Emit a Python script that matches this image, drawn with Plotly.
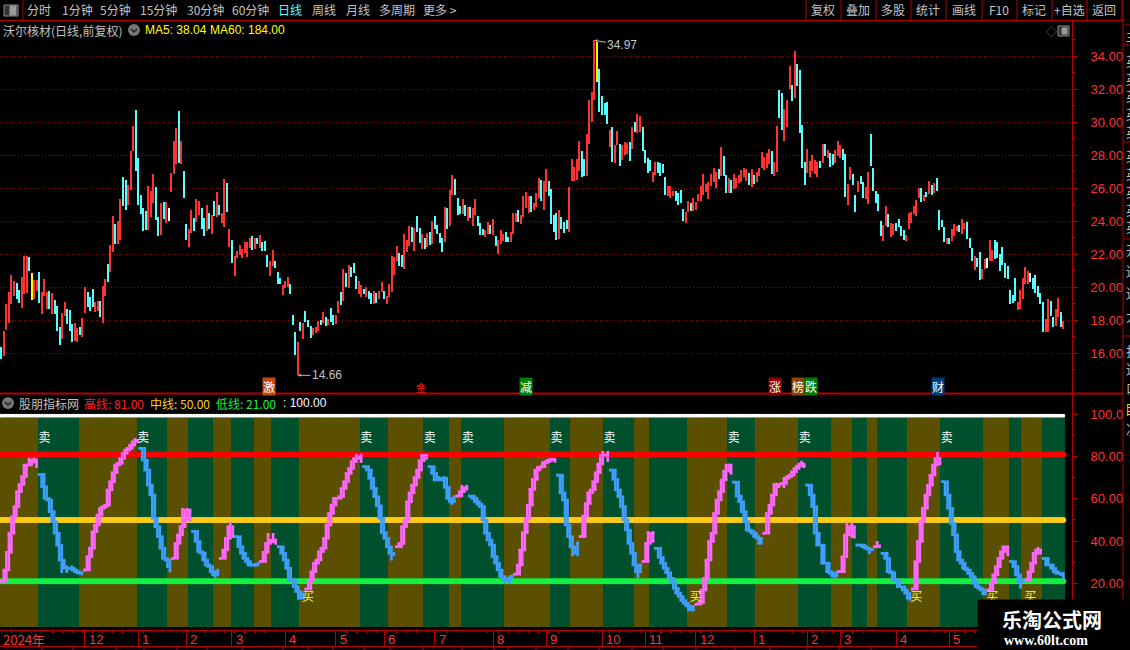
import plotly.graph_objects as go

W, H = 1130, 650

# price bars, left to right
high = [16.38,17.35,18.99,19.72,20.75,20.38,20.26,19.84,20.63,21.90,
21.90,21.84,20.87,20.44,20.44,20.93,19.72,20.51,19.72,19.78,
19.66,19.23,18.87,17.60,18.44,19.11,18.69,18.63,17.78,17.84,
17.54,17.60,18.14,20.02,19.72,19.41,19.90,19.11,19.17,19.17,
20.08,20.51,21.41,22.57,24.32,23.84,24.02,25.35,26.69,26.51,
26.20,28.26,29.78,30.75,27.84,25.60,24.81,24.63,26.14,25.84,
26.87,26.08,24.26,25.11,25.17,25.17,24.81,26.93,28.87,29.66,
30.69,28.87,27.05,23.84,23.54,24.69,24.20,25.35,25.23,24.81,
24.20,24.99,24.50,24.38,25.23,25.78,24.99,24.50,26.57,26.32,
23.54,22.87,21.90,22.20,22.57,22.32,22.75,22.75,22.99,23.11,
22.99,22.99,23.17,22.75,22.81,21.96,21.60,22.26,21.60,20.93,
20.57,20.14,20.38,20.63,20.20,18.32,17.29,16.69,
17.90,17.84,18.57,18.02,17.66,17.54,17.60,17.96,18.02,18.51,
18.20,18.08,18.75,18.32,18.32,19.17,19.72,21.11,20.87,21.35,
21.23,21.47,20.69,20.38,20.14,19.90,20.02,19.78,19.66,19.78,
19.66,19.78,20.32,19.78,19.47,20.20,21.90,21.84,22.51,22.08,
21.96,23.23,22.87,23.72,23.66,23.60,24.32,23.60,23.23,22.99,
23.29,23.35,24.02,24.32,23.78,23.29,22.99,24.87,24.81,25.90,
26.81,26.57,25.41,24.93,25.35,24.99,24.87,24.87,24.81,25.35,
24.32,23.90,23.54,23.47,23.96,23.78,24.14,23.11,22.87,23.47,
23.23,23.35,23.05,23.35,24.51,24.51,24.69,24.38,25.54,25.78,
25.54,25.54,25.11,25.72,26.63,26.51,26.44,27.17,26.44,25.96,
24.38,24.51,24.69,24.26,23.96,24.08,26.08,27.78,27.29,27.78,
28.87,28.26,27.78,29.29,31.35,
31.84,34.97,34.87,33.23,31.60,31.17,31.23,29.54,29.72,28.63,
29.47,28.69,28.63,28.81,28.75,28.81,29.72,30.02,30.51,30.38,
29.72,28.32,27.84,27.72,26.99,27.60,27.60,27.54,27.47,26.69,
26.14,26.14,25.84,25.84,25.72,25.90,24.75,24.57,25.23,25.11,
25.41,25.17,25.66,26.14,26.87,26.26,26.38,26.87,27.23,26.99,
27.17,28.51,27.96,26.81,26.63,26.51,26.87,26.63,26.81,27.11,
27.23,27.17,26.93,27.17,26.81,26.99,27.23,28.20,27.90,28.14,
28.38,28.26,27.60,29.78,31.96,31.78,30.81,31.35,33.41,32.26,
34.32,33.54,33.17,29.84,27.60,28.38,27.66,28.02,27.72,27.60,
27.66,28.69,28.69,28.32,28.14,28.08,28.32,28.87,28.63,28.38,
28.08,26.26,27.29,26.87,25.60,26.44,
26.75,26.38,26.08,26.99,29.29,27.23,25.84,25.66,24.02,23.78,
24.93,24.44,23.90,23.84,23.90,24.14,23.72,23.47,23.17,24.51,
24.57,24.93,25.29,26.02,26.02,25.60,25.78,26.44,26.20,26.32,
26.63,24.69,24.08,23.66,22.99,22.99,23.54,23.84,23.72,23.78,
24.14,23.90,23.96,22.99,22.38,21.90,21.78,22.14,21.11,21.72,
21.78,22.87,22.26,22.87,22.75,22.02,22.44,21.47,21.29,19.84,
19.54,20.57,19.11,19.84,20.57,21.23,20.99,20.87,20.57,20.75,
20.08,19.66,19.11,18.08,19.29,19.17,18.20,18.69,19.35,18.51,
17.96]

low = [15.66,15.86,17.41,17.84,18.99,19.47,19.29,19.05,18.75,19.60,
19.66,20.99,19.23,19.29,19.78,19.05,18.38,19.47,18.69,18.69,
18.38,18.38,17.35,16.51,16.87,18.26,17.78,17.35,16.69,16.75,
16.69,17.11,16.99,18.44,18.81,18.57,18.81,18.51,18.57,18.20,
17.84,19.47,20.32,20.93,22.14,22.63,22.63,22.87,24.93,24.69,
24.99,25.90,28.26,27.05,24.99,24.44,23.41,23.47,23.47,24.26,
25.11,24.08,23.11,23.17,24.14,23.90,24.02,25.78,26.87,27.47,
27.54,27.47,25.41,22.87,22.44,23.29,23.41,23.96,24.38,23.54,
23.11,23.41,23.54,23.23,24.32,24.26,24.38,23.90,23.66,24.57,
22.44,21.47,20.69,21.78,21.96,21.78,22.08,21.84,22.38,22.26,
22.32,22.63,22.38,22.20,22.20,21.23,20.69,21.29,21.17,20.20,
20.20,19.54,19.96,20.02,19.60,17.72,15.90,14.66,
17.35,16.87,17.90,17.60,16.93,17.11,17.23,17.35,17.72,17.84,
17.66,17.72,17.90,17.72,17.78,18.44,18.93,19.17,20.02,19.96,
20.63,20.87,19.90,19.60,19.41,19.60,19.41,19.29,18.99,18.99,
19.05,19.29,19.72,19.29,18.99,19.41,19.72,20.75,21.60,21.29,
21.23,21.11,22.14,22.51,22.75,22.20,23.35,22.69,22.32,22.32,
22.44,22.57,22.63,23.54,23.23,22.69,22.14,22.75,23.54,23.72,
25.60,25.60,24.38,24.44,24.44,24.32,24.02,24.20,23.72,24.38,
23.72,23.17,23.17,23.05,23.23,23.23,23.17,22.51,22.02,22.63,
22.81,22.75,22.75,22.75,23.23,23.96,23.96,23.84,24.26,24.81,
24.51,24.57,24.69,24.87,25.41,25.23,24.69,25.78,25.54,23.84,
23.35,22.87,22.93,23.54,23.29,23.54,23.35,26.44,26.44,26.51,
27.05,26.69,26.75,26.75,28.69,
30.02,31.35,32.44,30.63,30.44,30.44,29.90,28.51,27.60,27.54,
28.63,27.35,27.72,28.02,28.08,27.66,28.38,29.41,29.35,29.41,
28.26,27.54,26.93,27.05,26.38,26.81,26.93,26.75,26.93,25.60,
25.54,25.41,25.54,25.23,24.99,25.11,24.02,23.90,24.57,24.63,
24.63,24.69,25.23,25.23,25.60,25.78,25.35,26.14,26.38,26.02,
26.57,26.75,26.75,25.72,25.72,25.72,25.96,26.02,26.32,26.38,
26.69,26.44,26.20,26.08,26.26,26.38,26.75,27.23,27.11,27.23,
27.47,26.87,26.75,26.99,30.26,29.54,28.87,29.72,32.02,31.29,
31.47,32.20,29.35,27.23,26.20,26.93,26.69,27.05,26.87,26.69,
27.23,27.54,27.96,27.84,27.29,27.41,27.54,27.96,27.84,27.72,
25.47,24.99,26.51,26.20,24.57,25.78,
26.26,25.41,25.35,25.05,27.35,25.84,25.11,24.63,23.11,22.81,
23.72,23.66,23.05,23.17,23.41,23.66,23.11,22.87,22.81,23.54,
23.90,24.44,24.32,25.41,25.17,25.23,25.47,25.66,25.60,25.72,
25.84,23.47,23.66,22.75,22.63,22.63,22.81,23.11,23.41,23.35,
23.23,23.54,22.93,22.38,21.60,21.05,21.23,20.44,20.51,21.11,
21.17,21.60,21.60,21.72,21.78,20.99,21.35,20.57,20.51,18.99,
19.05,19.17,18.63,18.69,19.29,20.20,20.20,20.32,19.90,19.66,
19.41,18.99,17.29,17.29,17.29,18.26,17.60,17.66,18.20,17.60,
17.48]

# R up, C down, Y and W the odd coloured bars
bar_kind = list(
    "CRRRRRCCRR" "RCYRRCRRRC" "RCCCRRCCCR" "RCRRCCCRRC" "RRCRRCRRCC" "RRRCCCCCRR"
    "RCCRCRWRRR" "CRCCRRCRRC" "CRCRCRCRRC" "RCRRRRRRRC" "RCRCCCRRCC" "CRRRCCCR"
    "CRCCCRRRCR" "CRCCRRCRCR" "CCCRRCRCCR" "CRRCRRRRRC" "CRRRCRCCRC" "RCRCCCCRCR"
    "RCCCRCRCRR" "CCCRRCRCRR" "RCCRRRCRRR" "RCRRRCRRCC" "CCRCCCRRRR" "RCCRR"
    "RRYCCCCRCR" "RCRRRCRCRR" "CCCCRRCCCC" "RRRCCCCRRC" "RRRRRRRRRR" "CRCCRCRRRR"
    "RRCRCRRRRR" "RCRRCCRRRC" "RCCCCRRRRR" "CRCRCCRRRC" "CRRCCR"
    "CCRRCCCCCR" "RCRRCCCCRR" "RRRRCRCRCR" "CCCCRCRRRC" "RRCCCRCCRR" "WRRCCCCCCC"
    "CCRRRRRWCC" "CCCRRCCRRC" "R"
)

peak_i, peak_price = 234, 34.97
trough_i, trough_price = 117, 14.66

price_ticks = [16, 18, 20, 22, 24, 26, 28, 30, 32, 34]
price_minor = [15, 17, 19, 21, 23, 25, 27, 29, 31, 33, 35]

# indicator, one list per rising (pink) or falling (blue) run, pink first
ind_runs = [
    [21.0,26.3,34.7,43.7,51.5,56.3,63.4,66.8,70.5,76,76,78.8,78.4,77.3,75.2],
    [71.6,65.7,60.2,59.4,53.9,49.2,43.7,38.1,31,25.5,27.1,27.9,27.1,26.3,25.5,25,24.7,24.4],
    [26.3,32.6,36.6,44.4,47.6,52.3,55.5,56.3,57,64.2,68.1,72.4,76,76.8,79.1,81.5,83.1,83.9,85.4,87,88.1,87.8],
    [83.9,78.3,73.6,66.5,61.8,50.8,46.8,42.1,36.6,31.8,31,27.9,25.8],
    [31.8,38.9,42.9,46.8,55,54.7,50.3,49.8],
    [44.6,39.8,35,34.3,31,28.7,27.9,25.5,24,23.2,26.3],
    [31.8,35.8,41.3,46.8,48.4,42.1],
    [42.1,37.3,34.2,31.8,30.3,28.7,28.4,28.7,29.1,29.5],
    [30.3,34.7,38.9,43.2,40.5,39.6,38.9],
    [37.3,34.2,31,27.1,21.6,21.6,18.4,16.1,12.9,12.9,15],
    [17.3,21.6,25.5,29.5,31,35,36.6,41.3,47.6,53.1,57,60.2,60.2,61,64.9,68.1,72,74.4,77.6,79.1,80.7,79.9,77.6],
    [75.2,73.6,69.7,64.9,61,56.7,50.8,44,41.3,37.3,34.2,31.4,33.4],
    [37.3,38.9,46.8,50,58.6,62.8,66.5,70.1,73.6,78,80.6,80.6,79.1],
    [75.2,72,68.9,68.9,70.1,69.7,65.4,60.2,58.6,57.8,61],
    [61.3,63.4,66,65.3,64.5],
    [61.3,60.2,58.6,57.5,56.3,50,43.7,40.5,38.1,32.6,29.5,26.3,23.2,21.6,20.3,22.4,23.2,23.5],
    [24.3,28.7,35.8,44,50.8,57,64.5,69.2,73.6,74.9,75.2,77.1,77.6,78.3,78.7,78.7,77.7],
    [71.2,62.8,59.4,47.6,42.1,37.3,33.4,34.2,39.2],
    [42.1,51.9,57.8,62.9,64.2,68.1,72.4,76.5,80.7,82,80.7,78],
    [73.6,69.2,64.2,61,56.3,50,45.2,38.9,34.2,28.7,25.5,23.2,28.7],
    [30.3,38.9,44.1,43.7,39.8],
    [36.6,32.3,29.5,27.1,25,22.4,20.3,17.6,15.3,13.7,11.8,10.5,9.3,7.4,7.4,9],
    [10.1,10.9,16.8,22.4,31,39.8,43.7,53.1,59.4,63.4,68.9,73.1,76,76,72],
    [67.9,61.3,58.6,53.9,49.2,45.2,44.6,43.7,42.1,41.3,38.9,38.9],
    [43.7,53.1,57,61.8,66.8,67,65.7,67.3,69.7,70.5,71.2,72.8,74.4,75.5,76.5,77.4,75.2],
    [66.5,61.8,56.3,43.7,38.1,38.1,29.5,29.5,25.5,24.7,23.5,22.8,25.5],
    [25.5,32.6,42.9,48.1,46.8,42.1,41.8],
    [38.1,38.1,37.3,36.6,36.1,34.5,35.8],
    [37.3,39.4,37.8],
    [34.2,31.8,25.5,25,21.6,21.6,18.4,18.4,16.8,15.3,12.9,12.4],
    [17.3,30.3,39.8,49.2,55.5,61.8,66.5,71.2,76,79.1,81.5,76.5],
    [68.1,61.8,55.5,48.4,42.9,35,31,29.5,27.1,26.3,24.7,23.2,20,18.4,17.6,16.8,15,15],
    [16.8,20.3,24,27.9,31.8,35,37.3,37.3,33.4],
    [30.3,27.9,24,20.8,18.1,21.6],
    [21.6,25.5,29.5,34.2,35.8,36.6,34.2],
    [31.8,28.7,28.7,27.1,25.5,24.7,24.7,24,22.4],
]

high_line = 81.0
mid_line = 50.0
low_line = 21.0
top_line = 99.3

# background bands, olive and green in turn, edges in bar numbers
band_edges = [-0.5,14.5,30.5,53.5,65.5,73.5,83.5,90.5,99.5,106.5,117.5,141.5,152.5,166.5,
              176.5,181.5,198.5,216.5,224.5,237.5,249.5,255.5,270.5,286.5,297.5,314.5,
              327.5,335.5,341.5,345.5,357.5,370.5,387.5,397.5,402.5,410.5,419.5]

sell_x = [17, 56, 144, 169, 184, 219, 240, 289, 317, 373]
sell_y = 88.1
buy_x = [121, 274, 361, 391, 406]
buy_y = 12.9

month_ticks = [33, 54, 73, 91, 112, 132, 151, 171, 194, 215, 237, 254, 274, 297, 318, 331, 353, 374]
month_labels = ["12", "1", "2", "3", "4", "5", "6", "7", "8", "9", "10", "11", "12", "1", "2", "3", "4", "5"]

ind_ticks = [100, 80, 60, 40, 20]
ind_labels = ["100.0", "80.00", "60.00", "40.00", "20.00"]
ind_minor = [90, 70, 50, 30, 10]

top_buttons = [("分时", 39), ("1分钟", 77), ("5分钟", 115), ("15分钟", 158), ("30分钟", 205), ("60分钟", 250),
               ("周线", 324), ("月线", 358), ("多周期", 397), ("更多 >", 440)]
right_buttons = [("复权", 823), ("叠加", 858), ("多股", 893), ("统计", 928), ("画线", 964), ("F10", 999),
                 ("标记", 1034), ("+自选", 1069), ("返回", 1104)]
right_seps = [806, 841, 876, 911, 946, 982, 1017, 1052, 1087, 1122]
bottom_seps = [42, 73, 116, 144, 177, 207, 242, 283, 308, 333, 364, 390, 423, 462, 494, 508, 536, 568,
               599, 632, 663, 696, 735, 770, 807, 839, 871]
badges = [("激", 269, "#c04a10"), ("减", 526, "#008000"), ("涨", 775, "#8b0000"),
          ("榜", 798, "#8b4500"), ("跌", 811, "#008000"), ("财", 938, "#003c78")]
side_chars = [("主", 35), ("英", 60), ("英", 78), ("英", 96), ("英", 114), ("英", 131), ("英", 155), ("英", 173),
              ("英", 191), ("英", 209), ("英", 226), ("开", 250), ("送", 270), ("送", 292), ("大", 315),
              ("打", 350), ("送", 368), ("口", 387), ("决", 428)]

RED_TXT = "#ff3232"
AXIS = "#b40000"
GRAY = "#c4c4c4"
CJK = "Noto Sans CJK SC"
NUM = "Liberation Sans"


def px(x):
    return x / W


def py(y):
    return 1 - y / H


def paper_text(text, x, y, color=GRAY, size=12, anchor="left", font=CJK, bg=None, bold=False):
    if bold:
        text = "<b>" + text + "</b>"
    return dict(text=text, x=px(x), y=py(y), xref="paper", yref="paper", xanchor=anchor, yanchor="middle",
                showarrow=False, bgcolor=bg, borderpad=0, font=dict(color=color, size=size, family=font))


def line(x0, y0, x1, y1, color=AXIS, width=1):
    return dict(type="line", xref="paper", yref="paper", x0=px(x0), y0=py(y0), x1=px(x1), y1=py(y1),
                line=dict(color=color, width=width), layer="above")


def box(x0, y0, x1, y1, fill, color=None):
    return dict(type="rect", xref="paper", yref="paper", x0=px(x0), y0=py(y0), x1=px(x1), y1=py(y1),
                fillcolor=fill, line=dict(color=color or fill, width=1), layer="above")


def circle(cx, cy, r, fill):
    return dict(type="circle", xref="paper", yref="paper", x0=px(cx - r), y0=py(cy - r), x1=px(cx + r), y1=py(cy + r),
                fillcolor=fill, line=dict(width=0), layer="above")


N = len(high)
ind_count = sum(len(r) for r in ind_runs)
bar_colors = {"R": RED_TXT, "C": "#54ffff", "Y": "#ffff00", "W": "#ffffff"}
all_x = list(range(N))

# one pixel column of the picture is 1062 / (N - 1) of a bar
spacing = (1063.3 - 1.33) / (N - 1)
x_range = [-1.33 / spacing, (1072 - 1.33) / spacing]

fig = go.Figure()

fig.add_trace(go.Bar(x=all_x, base=low, y=[h - l for h, l in zip(high, low)], width=0.4,
                     marker=dict(color=[bar_colors[k] for k in bar_kind], line=dict(width=0)),
                     xaxis="x", yaxis="y"))

for k in range(len(band_edges) - 1):
    a, b = band_edges[k], band_edges[k + 1]
    fig.add_trace(go.Bar(x=[(a + b) / 2], base=[-0.66], y=[98.9], width=[b - a],
                         marker=dict(color="#5a5000" if k % 2 == 0 else "#00502e", line=dict(width=0)),
                         xaxis="x2", yaxis="y2"))

for level, color, size in [(top_line, "#ffffff", 4), (high_line, "#ff0000", 6), (mid_line, "#ffcc14", 6), (low_line, "#14f040", 6)]:
    fig.add_trace(go.Scatter(x=all_x, y=[level] * N, mode="markers",
                             marker=dict(color=color, size=size, line=dict(width=0)), xaxis="x2", yaxis="y2"))

# each stick spans the last three values of its run, that is what gives the band its thickness
pink_x, pink_y, blue_x, blue_y = [], [], [], []
i = 0
for r, run in enumerate(ind_runs):
    for j, v in enumerate(run):
        sx = i * (N - 1) / (ind_count - 1)
        start = run[max(j - 2, 0)]
        if r % 2 == 0:
            pink_x += [sx, sx, None]
            pink_y += [start, v, None]
        else:
            blue_x += [sx, sx, None]
            blue_y += [start, v, None]
        i += 1

for sx, sy, color in [(pink_x, pink_y, "#ff66ff"), (blue_x, blue_y, "#3f9fff")]:
    fig.add_trace(go.Scatter(x=sx, y=sy, mode="lines+markers", connectgaps=False,
                             line=dict(color=color, width=2.6),
                             marker=dict(color=color, size=2.6, symbol="square", line=dict(width=0)),
                             xaxis="x2", yaxis="y2"))

fig.add_trace(go.Scatter(x=sell_x, y=[sell_y] * len(sell_x), mode="text", text=["卖"] * len(sell_x),
                         textfont=dict(color="#ffffff", size=12, family=CJK), xaxis="x2", yaxis="y2"))
fig.add_trace(go.Scatter(x=buy_x, y=[buy_y] * len(buy_x), mode="text", text=["买"] * len(buy_x),
                         textfont=dict(color="#ffff33", size=12, family=CJK), xaxis="x2", yaxis="y2"))

notes = []
for text, x in top_buttons:
    notes.append(paper_text(text, x, 10, anchor="center"))
notes.append(paper_text("日线", 290, 10, color="#54ffff", anchor="center"))
for text, x in right_buttons:
    notes.append(paper_text(text, x, 10, anchor="center"))

notes.append(paper_text("沃尔核材(日线,前复权)", 2, 30))
notes.append(paper_text("MA5: 38.04", 144, 30, color="#ffff00", size=12, font=NUM))
notes.append(paper_text("MA60: 184.00", 209, 30, color="#ffff00", size=12, font=NUM))
notes.append(paper_text("◇", 1045, 31, color="#777777", size=11))

notes.append(paper_text("股朋指标网", 18, 403))
notes.append(paper_text("高线: 81.00", 83, 403, color="#ff2020", size=12))
notes.append(paper_text("中线: 50.00", 149, 403, color="#ffcc14", size=12))
notes.append(paper_text("低线: 21.00", 215, 403, color="#14f040", size=12))
notes.append(paper_text(": 100.00", 282, 403, color="#ffffff", size=12, font=NUM))

for text, x, color in badges:
    notes.append(paper_text(text, x, 386.5, color="#ffffff", size=12, anchor="center", bg=color))
notes.append(paper_text("金", 421, 387, color="#ff1010", size=10, anchor="center"))

notes.append(dict(text="34.97", x=peak_i, y=peak_price, xref="x", yref="y", showarrow=True, ax=28, ay=5,
                  arrowhead=2, arrowsize=0.6, arrowwidth=1, arrowcolor="#bbbbbb", font=dict(color=GRAY, size=12, family=NUM)))
notes.append(dict(text="14.66", x=trough_i, y=trough_price, xref="x", yref="y", showarrow=True, ax=29, ay=0,
                  arrowhead=2, arrowsize=0.6, arrowwidth=1, arrowcolor="#bbbbbb", font=dict(color=GRAY, size=12, family=NUM)))

notes.append(paper_text("2024年", 2, 639, color=RED_TXT, size=13))
for x, text in zip(month_ticks, month_labels):
    notes.append(dict(text=text, x=x, y=py(639), xref="x2", yref="paper", xanchor="left", yanchor="middle", xshift=2,
                      showarrow=False, font=dict(color=RED_TXT, size=13, family=NUM)))

for text, y in side_chars:
    notes.append(paper_text(text, 1125, y, color="#bbbbbb", size=13))
notes.append(paper_text("目", 1124, 408, color="#dddd00", size=13))

notes.append(paper_text("乐淘公式网", 1052, 619, color="#ffffff", size=20, anchor="center", bold=True))
notes.append(paper_text("www.60lt.com", 1046, 640, color="#ffffff", size=14, anchor="center", font="Liberation Serif", bold=True))

shapes = [
    line(0, 20.5, 1123, 20.5),
    line(23, 0, 23, 20),
    line(1072.5, 20, 1072.5, 646),
    line(1123, 0, 1123, 600),
    line(0, 393.5, 1123, 393.5, width=2),
    line(0, 646.5, 978, 646.5),
    line(1123, 25, 1130, 25),
    line(1123, 45, 1130, 45),
    line(1123, 142, 1130, 142),
    line(1123, 239, 1130, 239),
    line(1123, 336, 1130, 336),
    box(4, 5, 18, 16, "#333333", "#8c8c8c"),
    box(10, 6, 16, 15, "#999999"),
    box(1058, 26, 1069, 36, "#333333", "#8c8c8c"),
    box(1062, 28, 1067, 34, "#999999"),
    circle(134, 30, 6, "#777777"),
    circle(8, 403, 6, "#777777"),
    dict(type="path", xref="paper", yref="paper", layer="above", line=dict(color="#222222", width=1.5),
         path=f"M {px(131)} {py(29)} L {px(134)} {py(32)} L {px(137)} {py(29)}"),
    dict(type="path", xref="paper", yref="paper", layer="above", line=dict(color="#222222", width=1.5),
         path=f"M {px(5)} {py(402)} L {px(8)} {py(405)} L {px(11)} {py(402)}"),
    box(978, 600, 1130, 650, "#000000"),
]
for x in right_seps:
    shapes.append(line(x, 0, x, 20))
for x in bottom_seps:
    shapes.append(line(x, 647, x, 650))

fig.update_layout(
    width=W, height=H, autosize=False,
    margin=dict(l=0, r=0, t=0, b=0, pad=0),
    paper_bgcolor="#000000", plot_bgcolor="#000000",
    showlegend=False, barmode="overlay", bargap=0,
    annotations=notes, shapes=shapes,
    xaxis=dict(domain=[0, 1072 / W], range=x_range, anchor="y", showgrid=False, zeroline=False,
               showticklabels=False, ticks=""),
    xaxis2=dict(domain=[0, 1072 / W], range=x_range, anchor="y2", showgrid=False, zeroline=False,
                showline=True, linecolor=AXIS, linewidth=1, showticklabels=False,
                tickmode="array", tickvals=month_ticks, ticks="outside", ticklen=16, tickcolor=AXIS,
                minor=dict(tickmode="linear", tick0=0, dtick=4, ticks="outside", ticklen=2, tickcolor=AXIS)),
    yaxis=dict(domain=[py(393), py(22)], range=[13.59, 36.08], anchor="x", side="right", zeroline=False,
               tickmode="array", tickvals=price_ticks, ticktext=[f"{t:.2f}" for t in price_ticks],
               showgrid=True, gridcolor="#8c0000", griddash="1px,2px", gridwidth=1,
               ticks="outside", ticklen=5, tickcolor=AXIS, ticklabelstandoff=10,
               tickfont=dict(color=RED_TXT, size=13, family=NUM),
               minor=dict(tickmode="array", tickvals=price_minor, ticks="outside", ticklen=3, tickcolor=AXIS, showgrid=False)),
    yaxis2=dict(domain=[py(630), py(394)], range=[-2.1, 109.6], anchor="x2", side="right", zeroline=False, showgrid=False,
                tickmode="array", tickvals=ind_ticks, ticktext=ind_labels,
                ticks="outside", ticklen=5, tickcolor=AXIS, ticklabelstandoff=10,
                tickfont=dict(color=RED_TXT, size=13, family=NUM),
                minor=dict(tickmode="array", tickvals=ind_minor, ticks="outside", ticklen=3, tickcolor=AXIS, showgrid=False)),
)

assert len(low) == N and len(bar_kind) == N

# the browser's default page margin would push the figure 8 px in, and the modebar covers the top buttons
fig.write_html("out.html", config={"displayModeBar": False}, post_script="document.body.style.margin = '0';")
